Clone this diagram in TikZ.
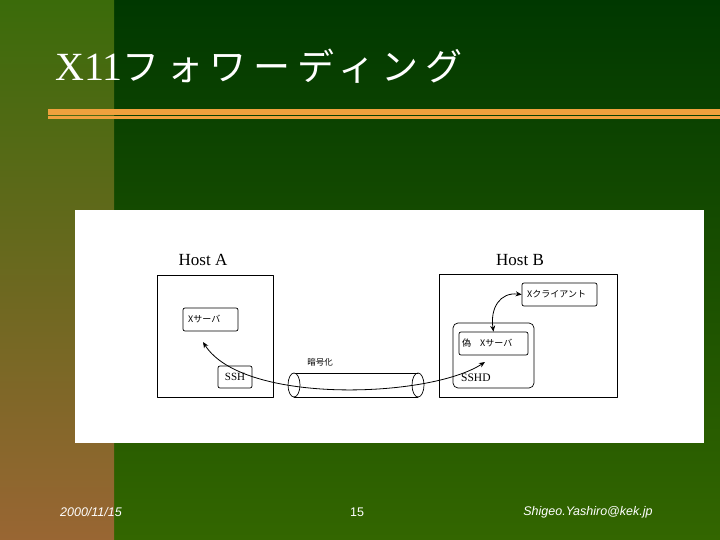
\documentclass[tikz,border=0pt]{standalone}
\usepackage{fontspec}
\setmainfont{Liberation Serif}
\setsansfont{Liberation Sans}
\newfontfamily\jpfont{Noto Sans CJK JP}
\newfontfamily\jptitlefont[LetterSpace=18]{Noto Sans CJK JP}
\usetikzlibrary{arrows.meta,positioning}
\definecolor{bgtop}{rgb}{0,0.22,0}
\definecolor{bgbot}{rgb}{0.2,0.4,0}
\definecolor{striptop}{rgb}{0.23,0.42,0.04}
\definecolor{stripmid}{rgb}{0.36,0.38,0.13}
\definecolor{stripbot}{rgb}{0.6,0.4,0.2}
\definecolor{barorange}{rgb}{0.94,0.63,0.24}

\tikzset{
  hostbox/.style={draw, line width=0.8pt, fill=white, inner sep=0pt},
  procbox/.style={draw, rounded corners=2pt, line width=0.7pt, fill=white, inner sep=0pt},
  proctext/.style={font=\jpfont\fontsize{9}{9}\selectfont, anchor=west},
  link/.style={{Stealth[length=6pt,width=5pt]}-{Stealth[length=6pt,width=5pt]}, line width=0.8pt},
}

\begin{document}
\begin{tikzpicture}[line cap=round,line join=round,x=1pt,y=-1pt]
    \useasboundingbox (0,0) rectangle (720,540);

    % slide background
    \shade[top color=bgtop, bottom color=bgbot] (0,0) rectangle (720,540);
    \shade[top color=striptop, middle color=stripmid, bottom color=stripbot] (0,0) rectangle (114,540);
    \fill[barorange] (48,109) rectangle (720,115.5);
    \fill[barorange] (48,116.5) rectangle (720,119.5);
    \node[anchor=west, text=white, inner sep=0pt] (title) at (55,66)
        {\fontsize{40}{40}\selectfont X11\jptitlefont\fontsize{37}{37}\selectfont フォワーディング};

    % white panel
    \fill[white] (75,210) rectangle (704,443);

    % hosts
    \node[hostbox, minimum width=116pt, minimum height=122pt] (hostA) at (215,336) {};
    \node[hostbox, minimum width=178pt, minimum height=123pt] (hostB) at (528,335.5) {};
    \node[font=\fontsize{17}{17}\selectfont] (hostAname) at (203,260) {Host A};
    \node[font=\fontsize{17}{17}\selectfont] (hostBname) at (520,260) {Host B};

    % processes on host A
    \node[procbox, minimum width=55pt, minimum height=23pt] (xsA) at (210.5,319.5) {};
    \node[proctext] at (xsA.west) {~Xサーバ};
    \node[procbox, minimum width=34pt, minimum height=22pt, font=\fontsize{11}{11}\selectfont] (ssh) at (235,377) {SSH};

    % processes on host B
    \node[procbox, minimum width=75pt, minimum height=23pt] (xc) at (559.5,294.5) {};
    \node[proctext] at (xc.west) {~Xクライアント};
    \node[procbox, rounded corners=5pt, minimum width=81pt, minimum height=65pt] (sshd) at (493.5,355.5) {};
    \node[anchor=west, inner sep=0pt, font=\fontsize{11.5}{12}\selectfont] (sshdname) at (461,378) {SSHD};
    \node[procbox, minimum width=69pt, minimum height=23pt] (fx) at (493.5,343.5) {};
    \node[proctext] at (fx.west) {偽\quad Xサーバ};

    % tunnel
    \fill[white] (294,373) rectangle (418,397);
    \draw[line width=0.7pt] (294,373) -- (418,373);
    \draw[line width=0.7pt] (294,397) -- (418,397);
    \draw[line width=0.7pt, fill=white] (294,385) ellipse (6 and 12);
    \draw[line width=0.7pt] (418,385) ellipse (6 and 12);
    \node[font=\jpfont\fontsize{8.5}{8.5}\selectfont] (enc) at (320,362) {暗号化};

    % connections
    \coordinate (tipA) at (203,342);
    \coordinate (tipB) at (485,362);
    \draw[link] (tipA) .. controls (243,405) and (430,398) .. (tipB);
    \draw[link] (xc.west) .. controls (500,292) and (490,308) .. (fx.north);

    % footer
    \node[text=white, font=\sffamily\itshape\fontsize{12.5}{12.5}\selectfont] (date) at (91,512) {2000/11/15};
    \node[text=white, font=\sffamily\fontsize{12.5}{12.5}\selectfont] (page) at (357,512) {15};
    \node[text=white, font=\sffamily\itshape\fontsize{12.5}{12.5}\selectfont] (mail) at (588,512) {Shigeo.Yashiro@kek.jp};
\end{tikzpicture}
\end{document}
